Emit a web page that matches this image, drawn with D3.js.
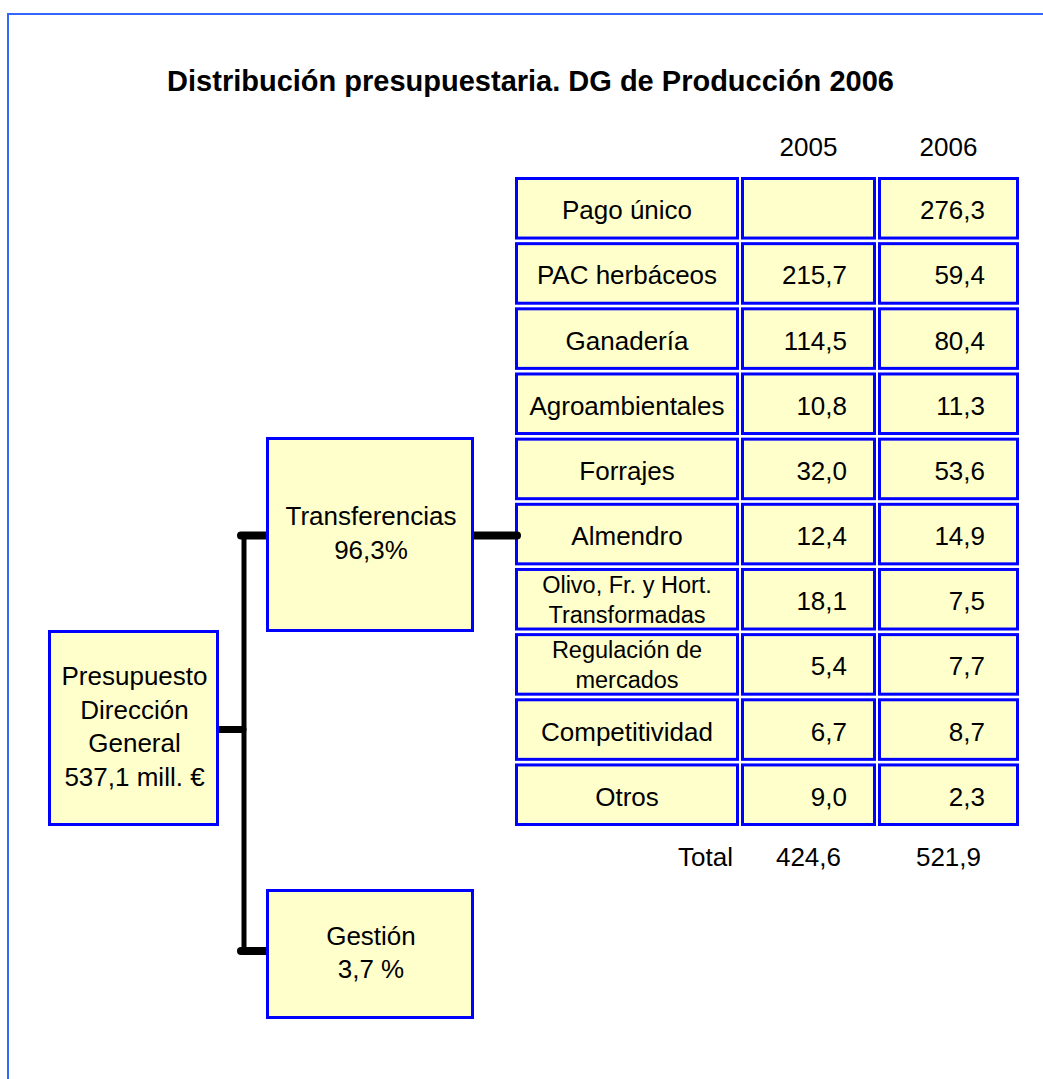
<!DOCTYPE html>
<html><head><meta charset="utf-8">
<script src="https://cdn.jsdelivr.net/npm/d3@7"></script>
<style>
html,body{margin:0;padding:0;background:#fff;}
svg{display:block;}
text{font-family:"Liberation Sans",Arial,sans-serif;fill:#000;}
</style></head>
<body>
<script>
const title = "Distribución presupuestaria. DG de Producción 2006";
const years = ["2005", "2006"];
const categories = ["Pago único", "PAC herbáceos", "Ganadería", "Agroambientales", "Forrajes", "Almendro",
  "Olivo, Fr. y Hort.|Transformadas", "Regulación de|mercados", "Competitividad", "Otros"];
const values2005 = [null, 215.7, 114.5, 10.8, 32.0, 12.4, 18.1, 5.4, 6.7, 9.0];
const values2006 = [276.3, 59.4, 80.4, 11.3, 53.6, 14.9, 7.5, 7.7, 8.7, 2.3];
const totals = [424.6, 521.9];
const totalLabel = "Total";
const rootLabel = ["Presupuesto", "Dirección", "General", "537,1 mill. €"];
const branchLabels = [["Transferencias", "96,3%"], ["Gestión", "3,7 %"]];

const W = 1043, H = 1079;
const BLUE = "#0000ff", FILL = "#ffffcc";
const fmt = v => v == null ? "" : d3.format(".1f")(v).replace(".", ",");

const svg = d3.select("body").append("svg").attr("width", W).attr("height", H);

// outer frame
svg.append("rect").attr("x", 8).attr("y", 14).attr("width", 1200).attr("height", 1200)
  .attr("fill", "none").attr("stroke", "#3366ff").attr("stroke-width", 2);

// title
svg.append("text").attr("x", 530.5).attr("y", 91).attr("text-anchor", "middle")
  .attr("font-size", 29).attr("font-weight", "bold").text(title);

// table scales
const y = d3.scaleBand().domain(d3.range(categories.length)).range([177, 826]).paddingInner(0.04);
const colEdges = [[515, 739], [741, 876], [878, 1019]];
const sw = 3;

function cell(g, x0, x1, y0, y1) {
  g.append("rect").attr("x", x0 + sw / 2).attr("y", y0 + sw / 2)
    .attr("width", x1 - x0 - sw).attr("height", y1 - y0 - sw)
    .attr("fill", FILL).attr("stroke", BLUE).attr("stroke-width", sw);
}

// headers
years.forEach((yr, i) => {
  const c = colEdges[i + 1];
  svg.append("text").attr("x", (c[0] + c[1]) / 2).attr("y", 156).attr("text-anchor", "middle")
    .attr("font-size", 26).text(yr);
});

const rows = svg.append("g").selectAll("g").data(categories).join("g");
rows.each(function (lab, i) {
  const g = d3.select(this);
  const y0 = y(i), y1 = y(i) + y.bandwidth(), cy = (y0 + y1) / 2;
  colEdges.forEach(c => cell(g, c[0], c[1], y0, y1));
  const parts = lab.split("|");
  const cx = (colEdges[0][0] + colEdges[0][1]) / 2;
  if (parts.length === 1) {
    g.append("text").attr("x", cx).attr("y", cy + 11).attr("text-anchor", "middle")
      .attr("font-size", 26).text(parts[0]);
  } else {
    parts.forEach((p, k) => {
      g.append("text").attr("x", cx).attr("y", cy + 9 + (k === 0 ? -15 : 15)).attr("text-anchor", "middle")
        .attr("font-size", 23.5).text(p);
    });
  }
  g.append("text").attr("x", 847).attr("y", cy + 11).attr("text-anchor", "end")
    .attr("font-size", 26).text(fmt(values2005[i]));
  g.append("text").attr("x", 985).attr("y", cy + 11).attr("text-anchor", "end")
    .attr("font-size", 26).text(fmt(values2006[i]));
});

// totals
svg.append("text").attr("x", 733).attr("y", 866).attr("text-anchor", "end").attr("font-size", 26).text(totalLabel);
totals.forEach((t, i) => {
  const c = colEdges[i + 1];
  svg.append("text").attr("x", (c[0] + c[1]) / 2).attr("y", 866).attr("text-anchor", "middle")
    .attr("font-size", 26).text(fmt(t));
});

// connectors
const conn = svg.append("g").attr("stroke", "#000").attr("stroke-linecap", "round");
conn.append("line").attr("x1", 244).attr("x2", 244).attr("y1", 535).attr("y2", 951).attr("stroke-width", 5).attr("stroke-linecap", "butt");
conn.append("line").attr("x1", 219).attr("x2", 243).attr("y1", 729.5).attr("y2", 729.5).attr("stroke-width", 7);
conn.append("line").attr("x1", 241).attr("x2", 266).attr("y1", 535.5).attr("y2", 535.5).attr("stroke-width", 8);
conn.append("line").attr("x1", 241).attr("x2", 266).attr("y1", 951).attr("y2", 951).attr("stroke-width", 8);
conn.append("line").attr("x1", 473).attr("x2", 517).attr("y1", 535.5).attr("y2", 535.5).attr("stroke-width", 8);

// boxes
function box(x0, y0, x1, y1, lines) {
  const g = svg.append("g");
  g.append("rect").attr("x", x0 + 1.5).attr("y", y0 + 1.5).attr("width", x1 - x0 - 3).attr("height", y1 - y0 - 3)
    .attr("fill", FILL).attr("stroke", BLUE).attr("stroke-width", 3);
  const cx = (x0 + x1) / 2 + 1, cy = (y0 + y1) / 2 + 7.5, ls = 33.5;
  lines.forEach((l, k) => {
    g.append("text").attr("x", cx).attr("y", cy + (k - (lines.length - 1) / 2) * ls)
      .attr("text-anchor", "middle").attr("font-size", 26).text(l);
  });
}
box(48, 630, 219, 826, rootLabel);
box(266, 437, 474, 632, branchLabels[0]);
box(266, 889, 474, 1019, branchLabels[1]);
</script>
</body></html>
